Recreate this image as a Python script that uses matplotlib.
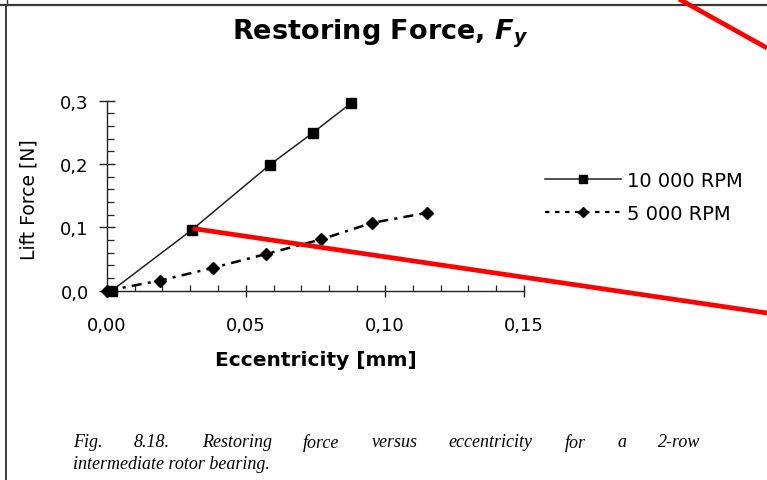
"""Restoring force vs eccentricity (2-row intermediate rotor bearing), scanned-figure style."""

import matplotlib
matplotlib.use("Agg")
import matplotlib.pyplot as plt
from matplotlib.lines import Line2D
from matplotlib.ticker import FuncFormatter, MultipleLocator

# data
ecc_10k = [0.0018, 0.0306, 0.0587, 0.0740, 0.0878]
force_10k = [0.0, 0.096, 0.199, 0.249, 0.296]
ecc_5k = [0.0, 0.0192, 0.0381, 0.0573, 0.0771, 0.0953, 0.1151]
force_5k = [0.0, 0.016, 0.036, 0.058, 0.081, 0.107, 0.123]

x_ticks = [0.0, 0.05, 0.10, 0.15]
y_ticks = [0.0, 0.1, 0.2, 0.3]
series_labels = ["10 000 RPM", "5 000 RPM"]
caption_1 = "Fig. 8.18. Restoring force versus eccentricity for a 2-row"
caption_2 = "intermediate rotor bearing."

W, H = 767, 481
SANS = "DejaVu Sans"
SERIF = "Liberation Serif"

plt.rcParams["font.family"] = SANS
plt.rcParams["mathtext.fontset"] = "custom"
plt.rcParams["mathtext.it"] = "DejaVu Sans:italic:bold"
plt.rcParams["mathtext.rm"] = "DejaVu Sans:bold"


def fx(px):
    return px / W


def fy(py):
    return 1 - py / H


def comma(fmt):
    return FuncFormatter(lambda v, _: format(v, fmt).replace(".", ","))


def main() -> None:
    fig = plt.figure(figsize=(W / 100, H / 100), dpi=100)
    fig.patch.set_facecolor("white")

    # frame of the scanned page
    gray = "#3a3a3a"
    fig.add_artist(Line2D([0, 1], [fy(5.5), fy(5.5)], color=gray, lw=1.6,
                          transform=fig.transFigure))
    fig.add_artist(Line2D([fx(5.5), fx(5.5)], [fy(5.5), 0], color=gray, lw=1.4,
                          transform=fig.transFigure))
    fig.add_artist(Line2D([fx(6.5), fx(6.5)], [1, fy(5.5)], color=gray, lw=1.0,
                          transform=fig.transFigure))

    ax = fig.add_axes([fx(106.7), fy(291.7), fx(524) - fx(106.7), fy(101.7) - fy(291.7)])
    ax.set_xlim(0, 0.15)
    ax.set_ylim(0, 0.3)
    for side in ("top", "right"):
        ax.spines[side].set_visible(False)
    for side in ("left", "bottom"):
        ax.spines[side].set_linewidth(1.0)
        ax.spines[side].set_color("#222222")

    ax.set_xticks(x_ticks)
    ax.set_yticks(y_ticks)
    ax.xaxis.set_major_formatter(comma(".2f"))
    ax.yaxis.set_major_formatter(comma(".1f"))
    ax.xaxis.set_minor_locator(MultipleLocator(0.01))
    ax.yaxis.set_minor_locator(MultipleLocator(0.02))
    ax.tick_params(which="both", color="#222222", labelsize=13)
    ax.tick_params(axis="y", which="major", direction="inout", length=12, width=1.0, pad=7)
    ax.tick_params(axis="x", which="major", direction="inout", length=8, width=1.0, pad=14)
    ax.tick_params(axis="y", which="minor", direction="in", length=4.8, width=0.9)
    ax.tick_params(axis="x", which="minor", direction="in", length=4.3, width=0.9)

    ax.plot(ecc_10k, force_10k, color="#222222", lw=1.1, marker="s", ms=7.5,
            mfc="black", mec="black", clip_on=False, label=series_labels[0], zorder=3)
    ax.plot(ecc_5k, force_5k, color="black", lw=1.8, ls=(0, (4, 2.5, 1.2, 2.5)),
            marker="D", ms=6, mfc="black", mec="black", clip_on=False,
            label=series_labels[1], zorder=3)

    leg = fig.legend(loc="upper left", bbox_to_anchor=(fx(545), fy(172)),
                     frameon=False, fontsize=14, handlelength=3.9, handletextpad=0.3,
                     labelspacing=0.72, borderpad=0, borderaxespad=0,
                     markerscale=0.85)
    leg.legend_handles[1].set_linestyle((0, (2, 2.5)))
    leg.legend_handles[1].set_linewidth(1.6)

    fig.text(fx(380), fy(34), r"Restoring Force, $F_y$", fontsize=19.5,
             fontweight="bold", ha="center", va="center")
    fig.text(fx(316), fy(361), "Eccentricity [mm]", fontsize=14.5,
             fontweight="bold", ha="center", va="center")
    fig.text(fx(29), fy(200), "Lift Force [N]", fontsize=13.5, rotation=90,
             ha="center", va="center")

    # justified caption, first line spread between x=73 and x=700
    renderer = fig.canvas.get_renderer()
    words = caption_1.split()
    arts = [fig.text(0, fy(443), w, family=SERIF, style="italic", fontsize=13,
                     va="center", ha="left") for w in words]
    widths = [a.get_window_extent(renderer).width for a in arts]
    gap = (700 - 73 - sum(widths)) / (len(words) - 1)
    x = 73
    for a, w in zip(arts, widths):
        a.set_x(fx(x))
        x += w + gap
    fig.text(fx(73), fy(465), caption_2, family=SERIF, style="italic",
             fontsize=13, va="center", ha="left")

    # red annotation strokes on the scan
    red = "#ff0000"
    fig.add_artist(Line2D([fx(679), fx(767)], [fy(0), fy(49)], color=red, lw=3.4,
                          transform=fig.transFigure, solid_capstyle="butt"))
    fig.add_artist(Line2D([fx(193), fx(767)], [fy(229.5), fy(314)], color=red, lw=3.4,
                          transform=fig.transFigure, solid_capstyle="butt", zorder=5))

    fig.savefig("out.png", dpi=100, facecolor="white")
    plt.close(fig)


if __name__ == "__main__":
    main()
